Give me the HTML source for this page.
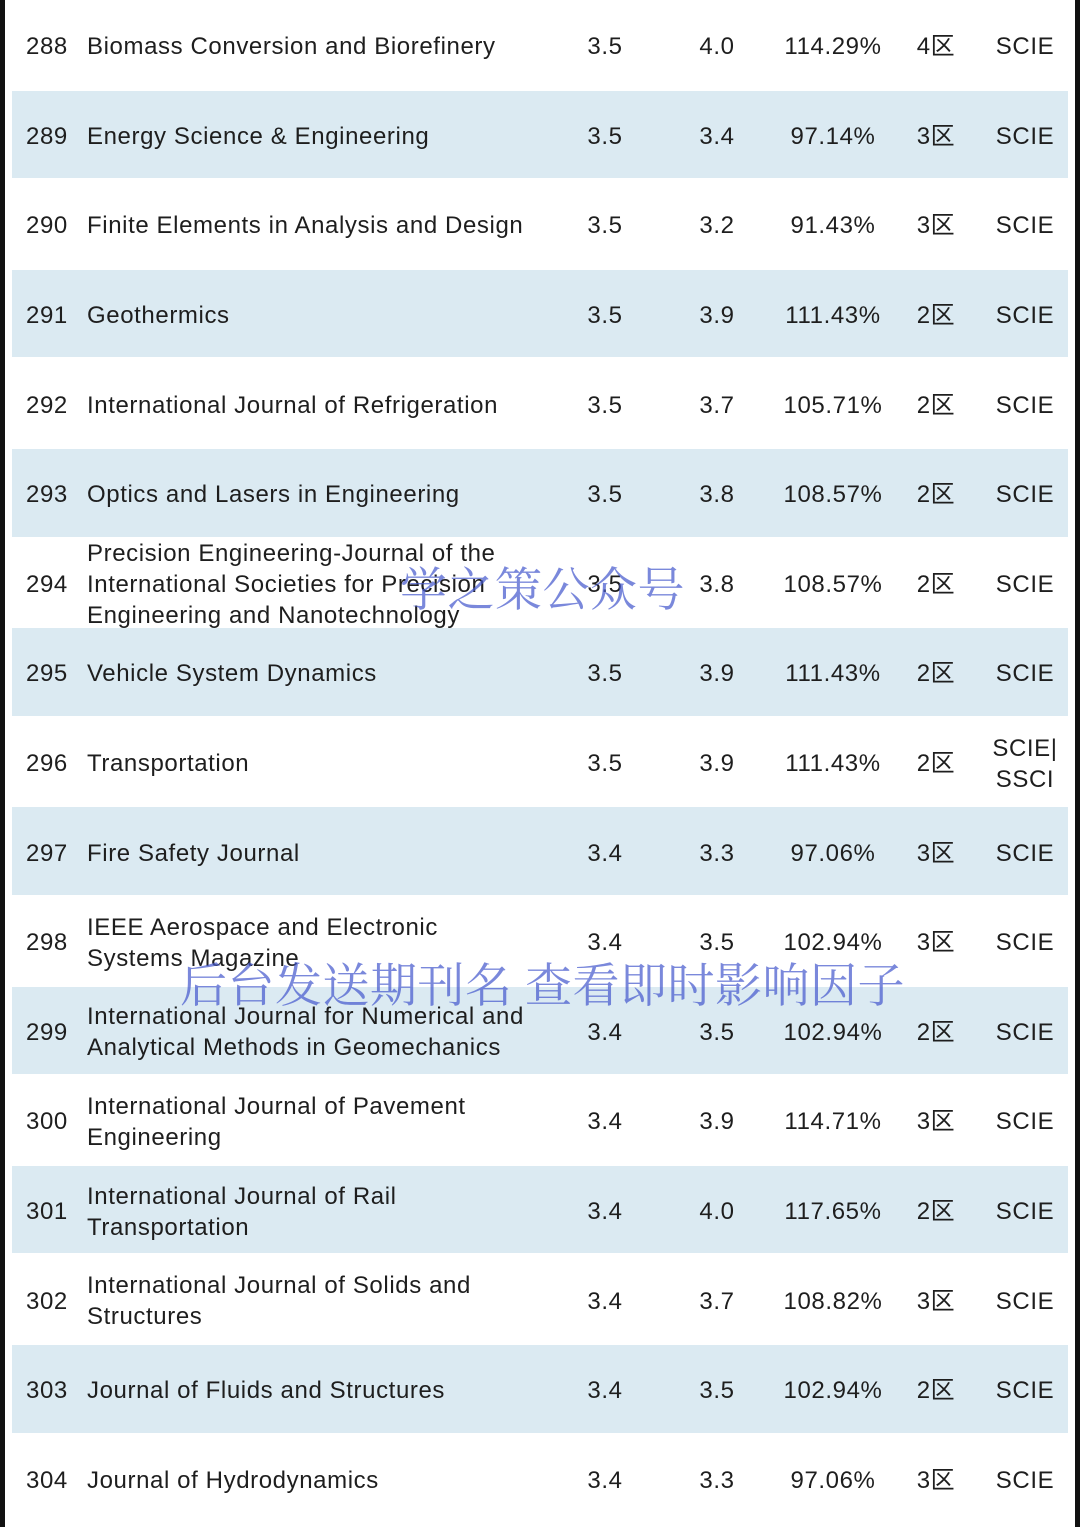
<!DOCTYPE html>
<html><head><meta charset="utf-8">
<style>
html,body{margin:0;padding:0;}
body{width:1080px;height:1527px;position:relative;background:#fff;overflow:hidden;font-family:"Liberation Sans","Noto Sans CJK SC",sans-serif;color:#1e1e1e;font-size:24px;letter-spacing:0.6px;}
.bl{position:absolute;left:0;top:0;width:5px;height:1527px;background:#111;}
.br{position:absolute;right:0;top:0;width:5px;height:1527px;background:#111;}
.row{position:absolute;left:12px;width:1056px;}
.shade{background:#dbeaf2;}
.c{position:absolute;top:2px;height:100%;display:flex;align-items:center;line-height:31px;white-space:nowrap;}
.wm{position:absolute;font-family:"Noto Serif CJK SC","WenQuanYi Zen Hei",serif;color:rgba(70,90,205,0.72);font-size:47px;white-space:nowrap;line-height:1;letter-spacing:0.5px;}
</style></head>
<body>
<div class="bl"></div>
<div class="br"></div>
<div id="tbl"></div>
<div class="wm" style="left:400px;top:563px;">学之策公众号</div>
<div class="wm" style="left:180px;top:959px;">后台发送期刊名 查看即时影响因子</div>
<script>
const ranks=[288,289,290,291,292,293,294,295,296,297,298,299,300,301,302,303,304];
const names=[["Biomass Conversion and Biorefinery"],["Energy Science & Engineering"],["Finite Elements in Analysis and Design"],["Geothermics"],["International Journal of Refrigeration"],["Optics and Lasers in Engineering"],["Precision Engineering-Journal of the","International Societies for Precision","Engineering and Nanotechnology"],["Vehicle System Dynamics"],["Transportation"],["Fire Safety Journal"],["IEEE Aerospace and Electronic","Systems Magazine"],["International Journal for Numerical and","Analytical Methods in Geomechanics"],["International Journal of Pavement","Engineering"],["International Journal of Rail","Transportation"],["International Journal of Solids and","Structures"],["Journal of Fluids and Structures"],["Journal of Hydrodynamics"]];
const ifOld=["3.5","3.5","3.5","3.5","3.5","3.5","3.5","3.5","3.5","3.4","3.4","3.4","3.4","3.4","3.4","3.4","3.4"];
const ifNew=["4.0","3.4","3.2","3.9","3.7","3.8","3.8","3.9","3.9","3.3","3.5","3.5","3.9","4.0","3.7","3.5","3.3"];
const ratio=["114.29%","97.14%","91.43%","111.43%","105.71%","108.57%","108.57%","111.43%","111.43%","97.06%","102.94%","102.94%","114.71%","117.65%","108.82%","102.94%","97.06%"];
const zone=["4区","3区","3区","2区","2区","2区","2区","2区","2区","3区","3区","2区","3区","2区","3区","2区","3区"];
const index=["SCIE","SCIE","SCIE","SCIE","SCIE","SCIE","SCIE","SCIE","SCIE|<br>SSCI","SCIE","SCIE","SCIE","SCIE","SCIE","SCIE","SCIE","SCIE"];
const H=89.6, tbl=document.getElementById('tbl');
function cell(row,left,width,html,align){
  const d=document.createElement('div');
  d.className='c';
  d.style.left=left+'px';d.style.width=width+'px';
  d.style.justifyContent=align;
  if(align==='center')d.style.textAlign='center';
  d.innerHTML=html;
  row.appendChild(d);return d;
}
ranks.forEach((r,i)=>{
  const row=document.createElement('div');
  row.className='row'+(i%2?' shade':'');
  row.style.top=(i*H+1)+'px';row.style.height=(H-2)+'px';
  
  
  const a=cell(row,14,60,r,'flex-start');
  
  
  const b=cell(row,75,480,names[i].join('<br>'),'flex-start');
  
  
  const c=cell(row,553,80,ifOld[i],'center');
  
  
  const d=cell(row,665,80,ifNew[i],'center');
  
  
  const e=cell(row,761,120,ratio[i],'center');
  
  
  const f=cell(row,894,60,zone[i],'center');
  
  
  const g=cell(row,973,80,index[i],'center');
  
  
  tbl.appendChild(row);
});
</script>
</body></html>
